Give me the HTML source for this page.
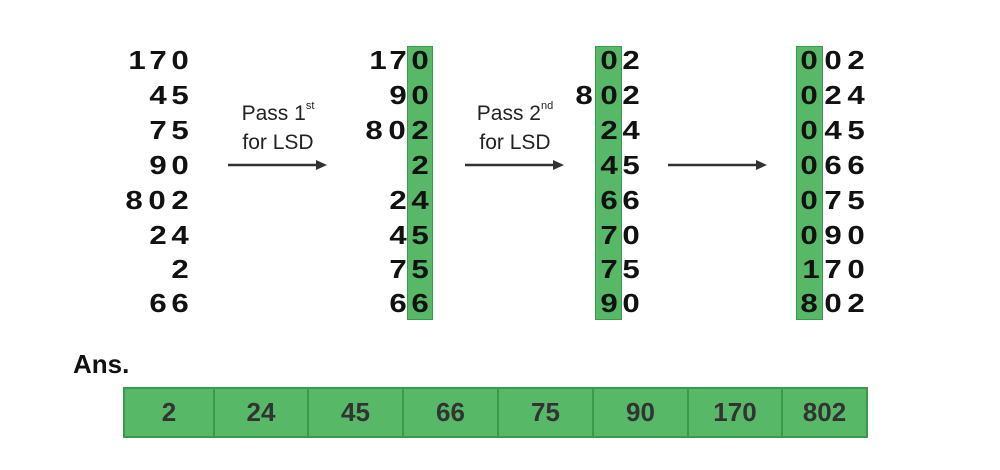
<!DOCTYPE html>
<html><head><meta charset="utf-8"><style>
body{margin:0;width:1000px;height:470px;background:#fff;position:relative;overflow:hidden;font-family:"Liberation Sans",sans-serif}
.d{position:absolute;width:22px;margin-left:-11px;text-align:center;font-weight:bold;font-size:26px;line-height:30px;color:#111;transform:scaleX(1.2)}
.g{position:absolute;background:#57b868;border:1.5px solid #3a9a4c;box-sizing:border-box}
.lbl{position:absolute;font-size:21px;color:#222;text-align:center;width:120px;line-height:29px}
.lbl sup{font-size:11px;vertical-align:top;line-height:14px}
.row{position:absolute;left:123px;top:387px;height:51px;width:745px;display:flex;border:2px solid #3a9a4c;box-sizing:border-box;background:#57b868}
.row div{box-sizing:border-box;border-left:2px solid #3a9a4c;text-align:center;font-weight:bold;font-size:26px;color:#333;line-height:47px}
.row div:first-child{border-left:none}
</style></head><body>
<div class="g" style="left:407px;top:46px;width:26px;height:274px"></div>
<div class="g" style="left:595px;top:46px;width:27px;height:274px"></div>
<div class="g" style="left:796px;top:46px;width:27px;height:274px"></div>
<div class="lbl" style="left:218px;top:99px">Pass 1<sup>st</sup><br>for LSD</div>
<div class="lbl" style="left:455px;top:99px">Pass 2<sup>nd</sup><br>for LSD</div>
<svg style="position:absolute;left:0;top:0" width="1000" height="470">
<g stroke="#333" stroke-width="2.5" fill="#333">
<line x1="228" y1="165" x2="318" y2="165"/><polygon points="327,165 316,160 316,170" stroke="none"/>
<line x1="465" y1="165" x2="555" y2="165"/><polygon points="564,165 553,160 553,170" stroke="none"/>
<line x1="668" y1="165" x2="758" y2="165"/><polygon points="767,165 756,160 756,170" stroke="none"/>
</g></svg>
<div style="position:absolute;left:73px;top:349px;font-weight:bold;font-size:26px;color:#111">Ans.</div>
<div class="row">
<div style="width:88px">2</div><div style="width:94px">24</div><div style="width:95px">45</div><div style="width:95px">66</div><div style="width:95px">75</div><div style="width:95px">90</div><div style="width:94px">170</div><div style="width:85px">802</div>
</div>
<div style="position:absolute;left:0;top:0">
<span class="d" style="left:137px;top:45px">1</span><span class="d" style="left:158px;top:45px">7</span><span class="d" style="left:180px;top:45px">0</span>
<span class="d" style="left:158px;top:80px">4</span><span class="d" style="left:180px;top:80px">5</span>
<span class="d" style="left:158px;top:115px">7</span><span class="d" style="left:180px;top:115px">5</span>
<span class="d" style="left:158px;top:150px">9</span><span class="d" style="left:180px;top:150px">0</span>
<span class="d" style="left:134px;top:185px">8</span><span class="d" style="left:157px;top:185px">0</span><span class="d" style="left:180px;top:185px">2</span>
<span class="d" style="left:158px;top:220px">2</span><span class="d" style="left:180px;top:220px">4</span>
<span class="d" style="left:180px;top:254px">2</span>
<span class="d" style="left:158px;top:288px">6</span><span class="d" style="left:180px;top:288px">6</span>
<span class="d" style="left:378px;top:45px">1</span><span class="d" style="left:398px;top:45px">7</span><span class="d" style="left:420px;top:45px">0</span>
<span class="d" style="left:398px;top:80px">9</span><span class="d" style="left:420px;top:80px">0</span>
<span class="d" style="left:374px;top:115px">8</span><span class="d" style="left:397px;top:115px">0</span><span class="d" style="left:420px;top:115px">2</span>
<span class="d" style="left:420px;top:150px">2</span>
<span class="d" style="left:398px;top:185px">2</span><span class="d" style="left:420px;top:185px">4</span>
<span class="d" style="left:398px;top:220px">4</span><span class="d" style="left:420px;top:220px">5</span>
<span class="d" style="left:398px;top:254px">7</span><span class="d" style="left:420px;top:254px">5</span>
<span class="d" style="left:398px;top:288px">6</span><span class="d" style="left:420px;top:288px">6</span>
<span class="d" style="left:609px;top:45px">0</span><span class="d" style="left:631px;top:45px">2</span>
<span class="d" style="left:584px;top:80px">8</span><span class="d" style="left:609px;top:80px">0</span><span class="d" style="left:631px;top:80px">2</span>
<span class="d" style="left:609px;top:115px">2</span><span class="d" style="left:631px;top:115px">4</span>
<span class="d" style="left:609px;top:150px">4</span><span class="d" style="left:631px;top:150px">5</span>
<span class="d" style="left:609px;top:185px">6</span><span class="d" style="left:631px;top:185px">6</span>
<span class="d" style="left:609px;top:220px">7</span><span class="d" style="left:631px;top:220px">0</span>
<span class="d" style="left:609px;top:254px">7</span><span class="d" style="left:631px;top:254px">5</span>
<span class="d" style="left:609px;top:288px">9</span><span class="d" style="left:631px;top:288px">0</span>
<span class="d" style="left:809px;top:45px">0</span><span class="d" style="left:833px;top:45px">0</span><span class="d" style="left:856px;top:45px">2</span>
<span class="d" style="left:809px;top:80px">0</span><span class="d" style="left:833px;top:80px">2</span><span class="d" style="left:856px;top:80px">4</span>
<span class="d" style="left:809px;top:115px">0</span><span class="d" style="left:833px;top:115px">4</span><span class="d" style="left:856px;top:115px">5</span>
<span class="d" style="left:809px;top:150px">0</span><span class="d" style="left:833px;top:150px">6</span><span class="d" style="left:856px;top:150px">6</span>
<span class="d" style="left:809px;top:185px">0</span><span class="d" style="left:833px;top:185px">7</span><span class="d" style="left:856px;top:185px">5</span>
<span class="d" style="left:809px;top:220px">0</span><span class="d" style="left:833px;top:220px">9</span><span class="d" style="left:856px;top:220px">0</span>
<span class="d" style="left:811px;top:254px">1</span><span class="d" style="left:833px;top:254px">7</span><span class="d" style="left:856px;top:254px">0</span>
<span class="d" style="left:809px;top:288px">8</span><span class="d" style="left:833px;top:288px">0</span><span class="d" style="left:856px;top:288px">2</span>
</div>
</body></html>
